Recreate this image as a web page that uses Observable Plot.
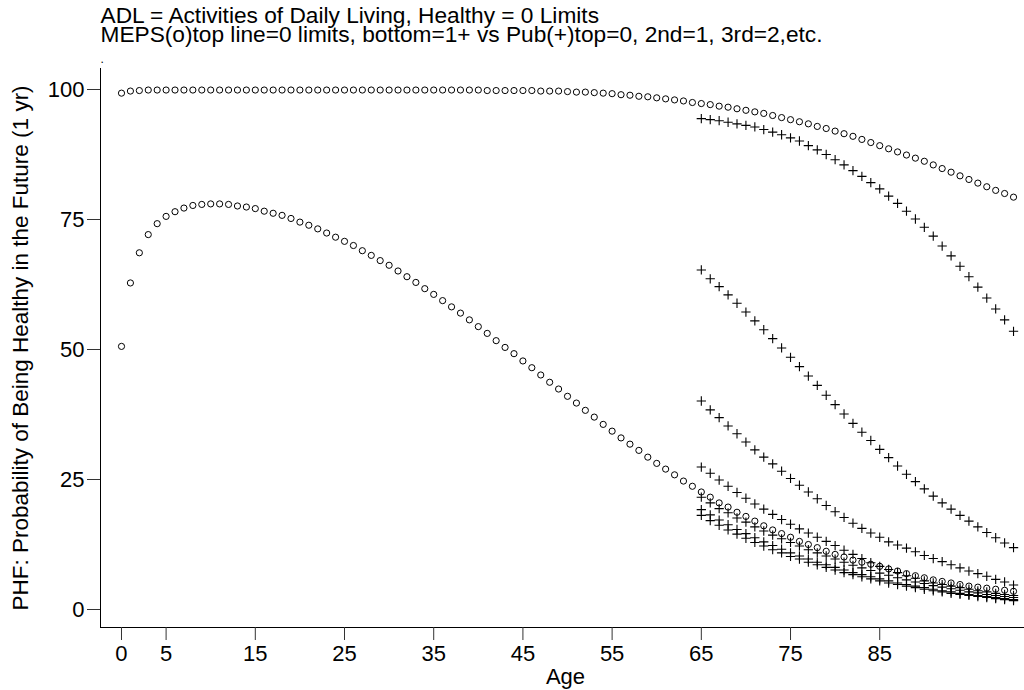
<!DOCTYPE html>
<html><head><meta charset="utf-8">
<script src="https://cdn.jsdelivr.net/npm/d3@7"></script>
<script src="https://cdn.jsdelivr.net/npm/@observablehq/plot@0.6"></script>
<style>
html,body{margin:0;padding:0;background:#fff;}
#chart svg{display:block;}
</style></head><body><div id="chart"></div>
<script>
// ---- data ----
const ages = d3.range(0, 101);      // MEPS ages 0..100
const pubAges = d3.range(65, 101);  // Pub ages 65..100

const xTicks = [0, 5, 15, 25, 35, 45, 55, 65, 75, 85];
const yTicks = [0, 25, 50, 75, 100];

const titleLine1 = "ADL = Activities of Daily Living, Healthy = 0 Limits";
const titleLine2 = "MEPS(o)top line=0 limits, bottom=1+ vs Pub(+)top=0, 2nd=1, 3rd=2,etc.";
const noteDot = ".";
const xTitle = "Age";
const yTitle = "PHF: Probability of Being Healthy in the Future (1 yr)";

// MEPS (o) top line: 0 limits
const mepsTop = [
  99.3, 99.7, 99.8, 99.9, 99.9, 99.9, 99.9, 99.9, 99.9, 99.9,
  99.9, 99.9, 99.9, 99.9, 99.9, 99.9, 99.9, 99.9, 99.9, 99.9,
  99.9, 99.9, 99.9, 99.9, 99.9, 99.9, 99.9, 99.9, 99.9, 99.9,
  99.9, 99.9, 99.9, 99.9, 99.9, 99.9, 99.9, 99.9, 99.9, 99.9,
  99.9, 99.8, 99.8, 99.8, 99.8, 99.8, 99.8, 99.7, 99.7, 99.7,
  99.6, 99.5, 99.5, 99.4, 99.3, 99.2, 99.0, 98.9, 98.7, 98.6,
  98.4, 98.2, 98.0, 97.8, 97.5, 97.3, 97.1, 96.8, 96.6, 96.3,
  96.0, 95.7, 95.4, 95.0, 94.6, 94.2, 93.8, 93.4, 92.9, 92.5,
  92.0, 91.5, 91.0, 90.4, 89.8, 89.2, 88.6, 88.0, 87.4, 86.8,
  86.2, 85.5, 84.8, 84.1, 83.4, 82.7, 82.0, 81.3, 80.6, 80.0,
  79.3
];
// MEPS (o) bottom line: 1+ limits
const mepsLow = [
  50.6, 62.8, 68.6, 72.1, 74.2, 75.6, 76.5, 77.2, 77.7, 77.9,
  78.0, 78.0, 77.9, 77.6, 77.4, 77.1, 76.6, 76.2, 75.8, 75.2,
  74.5, 73.9, 73.2, 72.4, 71.6, 70.8, 70.0, 69.0, 68.1, 67.1,
  66.2, 65.1, 64.0, 62.9, 61.7, 60.6, 59.4, 58.2, 57.0, 55.7,
  54.4, 53.1, 51.7, 50.4, 49.2, 47.8, 46.5, 45.1, 43.7, 42.4,
  41.0, 39.7, 38.3, 37.0, 35.6, 34.3, 33.0, 31.8, 30.6, 29.3,
  28.1, 27.0, 25.9, 24.7, 23.7, 22.6, 21.6, 20.5, 19.7, 18.7,
  17.9, 17.0, 16.1, 15.3, 14.6, 13.9, 13.1, 12.5, 11.9, 11.2,
  10.6, 10.1, 9.5, 9.1, 8.7, 8.3, 7.8, 7.4, 6.9, 6.5,
  6.1, 5.7, 5.4, 5.1, 4.8, 4.5, 4.3, 4.1, 3.9, 3.7,
  3.5
];
// Pub (+) series, ages 65..100; top = 0 limits, 2nd = 1, 3rd = 2, ...
const pub0 = [
  94.4, 94.2, 94.0, 93.7, 93.4, 93.1, 92.8, 92.3, 91.8, 91.3,
  90.7, 90.1, 89.2, 88.4, 87.5, 86.5, 85.5, 84.4, 83.3, 82.1,
  80.9, 79.5, 78.1, 76.6, 75.1, 73.5, 71.8, 69.9, 68.0, 66.0,
  64.0, 62.0, 59.9, 57.8, 55.7, 53.5
];
const pub1 = [
  65.3, 63.6, 62.1, 60.5, 58.9, 57.2, 55.5, 53.8, 52.1, 50.3,
  48.5, 46.7, 44.9, 43.1, 41.2, 39.4, 37.6, 35.8, 34.1, 32.5,
  30.8, 29.2, 27.6, 26.0, 24.6, 23.2, 21.8, 20.5, 19.3, 18.1,
  17.0, 15.9, 14.8, 13.8, 12.8, 11.9
];
const pub2 = [
  40.1, 38.4, 36.9, 35.3, 33.8, 32.2, 30.7, 29.3, 28.0, 26.6,
  25.2, 23.9, 22.6, 21.3, 20.0, 18.8, 17.7, 16.6, 15.6, 14.7,
  13.9, 13.0, 12.4, 11.8, 11.1, 10.4, 9.8, 9.2, 8.6, 8.0,
  7.4, 6.9, 6.4, 5.8, 5.3, 4.7
];
const pub3 = [
  27.4, 26.2, 24.9, 23.7, 22.5, 21.4, 20.3, 19.3, 18.3, 17.3,
  16.4, 15.5, 14.7, 13.9, 13.1, 12.3, 11.4, 10.6, 9.8, 9.0,
  8.3, 7.7, 7.1, 6.5, 6.0, 5.5, 5.1, 4.8, 4.5, 4.2,
  3.9, 3.6, 3.4, 3.1, 2.9, 2.7
];
const pub4 = [
  21.6, 20.5, 19.4, 18.6, 17.6, 16.8, 15.9, 15.1, 14.3, 13.6,
  12.9, 12.2, 11.5, 10.9, 10.3, 9.7, 9.1, 8.5, 8.0, 7.5,
  7.0, 6.6, 6.1, 5.7, 5.3, 5.0, 4.6, 4.3, 4.0, 3.7,
  3.4, 3.2, 2.9, 2.7, 2.5, 2.3
];
const pub5 = [
  19.2, 18.2, 17.2, 16.3, 15.4, 14.6, 13.8, 13.0, 12.3, 11.6,
  10.9, 10.3, 9.7, 9.1, 8.6, 8.1, 7.6, 7.1, 6.7, 6.3,
  5.9, 5.5, 5.1, 4.8, 4.5, 4.2, 3.9, 3.6, 3.4, 3.1,
  2.9, 2.7, 2.5, 2.3, 2.1, 1.9
];
const pub6 = [
  18.1, 17.1, 16.2, 15.3, 14.5, 13.7, 12.9, 12.2, 11.5, 10.9,
  10.2, 9.7, 9.1, 8.6, 8.1, 7.6, 7.1, 6.7, 6.3, 5.9,
  5.5, 5.1, 4.8, 4.5, 4.2, 3.9, 3.6, 3.4, 3.1, 2.9,
  2.7, 2.5, 2.3, 2.1, 1.9, 1.7
];

// ---- tables built from the arrays ----
const mepsData = [mepsTop, mepsLow].flatMap((s, k) => ages.map((a, i) => ({age: a, v: s[i], series: k})));
const pubData = [pub0, pub1, pub2, pub3, pub4, pub5, pub6].flatMap((s, k) => pubAges.map((a, i) => ({age: a, v: s[i], series: k})));

const xDomain = [-2.354, 101.23];
const yDomain = [-3.46, 104.04];
const font = "'Liberation Sans', Arial, Helvetica, sans-serif";

const chart = Plot.plot({
  width: 1024,
  height: 690,
  marginLeft: 100,
  marginRight: 0,
  marginTop: 68,
  marginBottom: 63,
  style: {fontFamily: font, fontSize: "22px", background: "#fff", color: "#000", overflow: "visible"},
  x: {domain: xDomain},
  y: {domain: yDomain},
  marks: [
    Plot.ruleX([xDomain[0]], {stroke: "#000", strokeWidth: 1}),
    Plot.ruleY([yDomain[0]], {stroke: "#000", strokeWidth: 1}),
    Plot.axisY({ticks: yTicks, tickSize: 13, tickPadding: 3, label: null, fontSize: 22, stroke: "#333"}),
    Plot.axisX({ticks: xTicks, tickSize: 13, tickPadding: 5, label: null, fontSize: 22, stroke: "#333"}),
    Plot.dot(mepsData, {x: "age", y: "v", r: 3.1, stroke: "#000", strokeWidth: 1, fill: "none"}),
    Plot.dot(pubData, {x: "age", y: "v", symbol: "plus", r: 3.1, stroke: "#000", strokeWidth: 1.1}),
    Plot.text([titleLine1], {text: d => d, frameAnchor: "top-left", dy: -53, textAnchor: "start", lineAnchor: "middle", fontSize: 22.7}),
    Plot.text([titleLine2], {text: d => d, frameAnchor: "top-left", dy: -33.5, textAnchor: "start", lineAnchor: "middle", fontSize: 22.7}),
    Plot.text([noteDot], {text: d => d, frameAnchor: "top-left", dy: -6, textAnchor: "start", lineAnchor: "bottom", fontSize: 12}),
    Plot.text([xTitle], {text: d => d, frameAnchor: "bottom", dx: 3, dy: 49, textAnchor: "middle", lineAnchor: "middle", fontSize: 22}),
    Plot.text([yTitle], {text: d => d, frameAnchor: "left", dx: -80, rotate: -90, textAnchor: "middle", lineAnchor: "middle", fontSize: 22.5})
  ]
});
document.getElementById("chart").append(chart);
</script>
</body></html>
